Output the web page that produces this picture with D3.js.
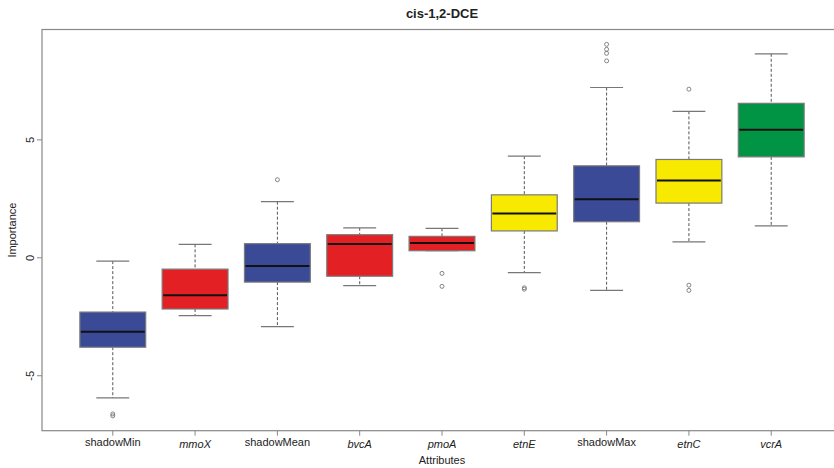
<!DOCTYPE html>
<html>
<head>
<meta charset="utf-8">
<script src="https://cdn.jsdelivr.net/npm/d3@7"></script>
<style>
  body { margin: 0; background: #fff; }
  svg { font-family: "Liberation Sans", Arial, sans-serif; }
</style>
</head>
<body>
<script>
// boxplot stats
var attributes = ["shadowMin", "mmoX", "shadowMean", "bvcA", "pmoA", "etnE", "shadowMax", "etnC", "vcrA"];
var italic     = [false, true, false, true, true, true, false, true, true];
var boxColors  = ["#3b4a97", "#e32024", "#3b4a97", "#e32024", "#e32024", "#f8e900", "#3b4a97", "#f8e900", "#009444"];
var whiskerLow = [-5.94, -2.45, -2.92, -1.18, 0.30, -0.63, -1.38, 0.68, 1.35];
var q1         = [-3.79, -2.17, -1.03, -0.78, 0.30, 1.14, 1.53, 2.32, 4.28];
var medians    = [-3.13, -1.59, -0.35, 0.59, 0.63, 1.88, 2.48, 3.28, 5.43];
var q3         = [-2.30, -0.48, 0.60, 0.98, 0.91, 2.67, 3.90, 4.17, 6.55];
var whiskerHigh= [-0.14, 0.57, 2.38, 1.27, 1.25, 4.31, 7.22, 6.21, 8.65];
var outliers   = [[-6.62, -6.70], [], [3.31], [], [-0.66, -1.21], [-1.27, -1.33],
                  [9.05, 8.84, 8.67, 8.35], [7.15, -1.16, -1.38], []];
var yTicks = [-5, 0, 5];

var width = 834, height = 468;
var plotLeft = 42, plotTop = 29.5, plotRight = 842, plotBottom = 430.7;

var svg = d3.select("body").append("svg")
    .attr("width", width)
    .attr("height", height);

// R style 4% padding around data range
var allVals = whiskerLow.concat(whiskerHigh, d3.merge(outliers));
var ymin = d3.min(allVals), ymax = d3.max(allVals);
var pad = (ymax - ymin) * 0.04;

var y = d3.scaleLinear().domain([ymin - pad, ymax + pad]).range([plotBottom, plotTop]);
var n = attributes.length;
var xpad = n * 0.04;
var x = d3.scaleLinear().domain([0.5 - xpad, n + 0.5 + xpad]).range([plotLeft, plotRight]);
var unit = x(1) - x(0);
var boxW = unit * 0.8;

var g = svg.selectAll("g.box")
    .data(attributes)
    .enter()
    .append("g")
    .attr("class", "box");

// whiskers
g.append("line")
    .attr("x1", function(d, i) { return x(i + 1); })
    .attr("x2", function(d, i) { return x(i + 1); })
    .attr("y1", function(d, i) { return y(whiskerHigh[i]); })
    .attr("y2", function(d, i) { return y(q3[i]); })
    .attr("stroke", "#555").attr("stroke-width", 1).attr("stroke-dasharray", "3,2");
g.append("line")
    .attr("x1", function(d, i) { return x(i + 1); })
    .attr("x2", function(d, i) { return x(i + 1); })
    .attr("y1", function(d, i) { return y(q1[i]); })
    .attr("y2", function(d, i) { return y(whiskerLow[i]); })
    .attr("stroke", "#555").attr("stroke-width", 1).attr("stroke-dasharray", "3,2");

// staples
[whiskerHigh, whiskerLow].forEach(function(arr) {
  g.append("line")
      .attr("x1", function(d, i) { return x(i + 1) - boxW / 4; })
      .attr("x2", function(d, i) { return x(i + 1) + boxW / 4; })
      .attr("y1", function(d, i) { return y(arr[i]); })
      .attr("y2", function(d, i) { return y(arr[i]); })
      .attr("stroke", "#777").attr("stroke-width", 1.2);
});

// boxes
g.append("rect")
    .attr("x", function(d, i) { return x(i + 1) - boxW / 2; })
    .attr("y", function(d, i) { return y(q3[i]); })
    .attr("width", boxW)
    .attr("height", function(d, i) { return y(q1[i]) - y(q3[i]); })
    .attr("fill", function(d, i) { return boxColors[i]; })
    .attr("stroke", "#7a7a7a").attr("stroke-width", 1.2);

// medians
g.append("line")
    .attr("x1", function(d, i) { return x(i + 1) - boxW / 2 + 1; })
    .attr("x2", function(d, i) { return x(i + 1) + boxW / 2 - 1; })
    .attr("y1", function(d, i) { return y(medians[i]); })
    .attr("y2", function(d, i) { return y(medians[i]); })
    .attr("stroke", "#111").attr("stroke-width", 2);

// outliers
g.each(function(d, i) {
  d3.select(this).selectAll("circle")
      .data(outliers[i])
      .enter()
      .append("circle")
      .attr("cx", x(i + 1))
      .attr("cy", function(v) { return y(v); })
      .attr("r", 2)
      .attr("fill", "none")
      .attr("stroke", "#777")
      .attr("stroke-width", 0.9);
});

// frame
svg.append("rect")
    .attr("x", plotLeft).attr("y", plotTop)
    .attr("width", plotRight - plotLeft).attr("height", plotBottom - plotTop)
    .attr("fill", "none").attr("stroke", "#888").attr("stroke-width", 1.2);

// x axis
var xAxis = svg.append("g");
xAxis.selectAll("line")
    .data(attributes)
    .enter()
    .append("line")
    .attr("x1", function(d, i) { return x(i + 1); })
    .attr("x2", function(d, i) { return x(i + 1); })
    .attr("y1", plotBottom).attr("y2", plotBottom + 5)
    .attr("stroke", "#888");
xAxis.selectAll("text")
    .data(attributes)
    .enter()
    .append("text")
    .attr("x", function(d, i) { return x(i + 1); })
    .attr("y", function(d, i) { return italic[i] ? plotBottom + 17 : plotBottom + 15; })
    .attr("text-anchor", "middle")
    .attr("font-size", 11)
    .attr("font-style", function(d, i) { return italic[i] ? "italic" : "normal"; })
    .attr("fill", "#222")
    .text(function(d) { return d; });

// y axis
var yAxis = svg.append("g");
yAxis.selectAll("line")
    .data(yTicks)
    .enter()
    .append("line")
    .attr("x1", plotLeft - 5).attr("x2", plotLeft)
    .attr("y1", function(d) { return y(d); })
    .attr("y2", function(d) { return y(d); })
    .attr("stroke", "#888");
yAxis.selectAll("text")
    .data(yTicks)
    .enter()
    .append("text")
    .attr("transform", function(d) { return "translate(" + (plotLeft - 8) + "," + y(d) + ") rotate(-90)"; })
    .attr("text-anchor", "middle")
    .attr("font-size", 11)
    .attr("fill", "#222")
    .text(function(d) { return d; });

// labels
svg.append("text")
    .attr("x", (plotLeft + plotRight) / 2).attr("y", 18)
    .attr("text-anchor", "middle")
    .attr("font-size", 13).attr("font-weight", "bold")
    .attr("fill", "#222")
    .text("cis-1,2-DCE");
svg.append("text")
    .attr("x", (plotLeft + plotRight) / 2).attr("y", 464)
    .attr("text-anchor", "middle")
    .attr("font-size", 11)
    .attr("fill", "#222")
    .text("Attributes");
svg.append("text")
    .attr("transform", "translate(16," + ((plotTop + plotBottom) / 2) + ") rotate(-90)")
    .attr("text-anchor", "middle")
    .attr("font-size", 11)
    .attr("fill", "#222")
    .text("Importance");
</script>
</body>
</html>
